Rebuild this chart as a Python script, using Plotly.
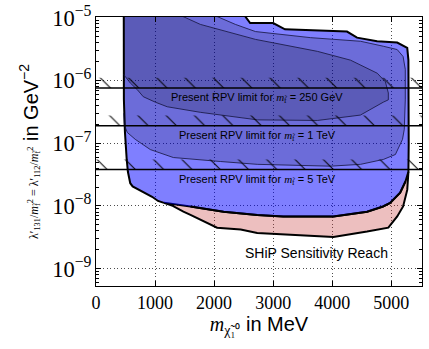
import numpy as np
import plotly.graph_objects as go

# ── Data ───────────────────────────────────────────────────────
# outer edge of the SHiP reach (shared by both bands): lower-left corner,
# left edge, top, right edge
edge_x = [1150, 1050, 950, 830, 700, 620, 580, 540, 520, 490, 472, 470,
          2480, 2610, 3000, 3200, 4250, 4420, 4760, 5100, 5270, 5290, 5295, 5290]
edge_y = [1.12e-8, 1.2e-8, 1.4e-8, 1.6e-8, 1.9e-8, 2.05e-8, 2.3e-8, 3.5e-8,
          5.5e-8, 1.5e-7, 5e-7, 1.2e-5,
          1.2e-5, 8.2e-6, 8.2e-6, 6.5e-6, 6.0e-6, 4.8e-6, 4.2e-6, 4.0e-6,
          3.3e-6, 2.1e-6, 1e-7, 3.5e-8]

# lower edge of the blue region (right -> left)
blue_bottom_x = [5240, 5150, 4980, 4860, 4590, 4020, 3170, 2730, 2160, 1600]
blue_bottom_y = [2.45e-8, 1.62e-8, 1.12e-8, 9.8e-9, 8.1e-9, 6.8e-9, 6.8e-9,
                 7.2e-9, 8.1e-9, 9.8e-9]

# lower edge of the pink region (right -> left)
red_bottom_x = [5280, 5270, 5200, 5100, 4950, 4590, 4020, 3170, 2730, 2450,
                2050, 1600, 1480, 1300]
red_bottom_y = [2.5e-8, 1.8e-8, 9.8e-9, 6.8e-9, 4.5e-9, 3.9e-9, 3.2e-9,
                3.5e-9, 3.7e-9, 4.2e-9, 4.5e-9, 7.2e-9, 8.1e-9, 1.0e-8]

# inner contours
mid_x = [470, 1900, 2360, 2700, 3630, 4480, 4865, 5100, 5200, 5237, 5237, 5220,
         5190, 5070, 4865, 4480, 3970, 3290, 2730, 2110, 1600, 1310, 920, 665,
         530, 480, 470]
mid_y = [1.2e-5, 1.2e-5, 7.8e-6, 6.0e-6, 4.8e-6, 4.2e-6, 3.5e-6, 3.1e-6, 2.4e-6,
         1.5e-6, 4.9e-7, 1.66e-7, 1.15e-7, 6.6e-8, 5.5e-8, 4.6e-8, 4.3e-8,
         4.4e-8, 4.6e-8, 5.1e-8, 5.5e-8, 5.9e-8, 7.9e-8, 1.15e-7, 1.48e-7,
         1.95e-7, 3e-7]

dark_x = [470, 1330, 1767, 2275, 2700, 3750, 4310, 4763, 4900, 4950, 4950, 4865,
          4477, 3750, 2733, 1767, 1207, 1004, 800, 700, 580, 496, 470]
dark_y = [1.2e-5, 1.2e-5, 7.8e-6, 5.75e-6, 4.5e-6, 2.9e-6, 2.1e-6, 1.3e-6,
          9.5e-7, 6.3e-7, 4.9e-7, 4.5e-7, 2.8e-7, 2.3e-7, 2.35e-7, 3.1e-7,
          3.8e-7, 4.5e-7, 5.5e-7, 7.1e-7, 9.1e-7, 1.15e-6, 1.25e-6]

# present RPV limits
rpv_masses = ["250 GeV", "1 TeV", "5 TeV"]
rpv_limits = [7.6e-7, 1.9e-7, 3.8e-8]

X_RANGE = [0, 5520]
Y_RANGE = [np.log10(5.3e-10), -4.99]
HATCH_K = 10 ** 0.16

SANS = "Liberation Sans, Arial, sans-serif"
SERIF = "Liberation Serif, Times New Roman, serif"

fig = go.Figure()

# pink band: red lower edge + blue lower edge reversed
fig.add_trace(go.Scatter(
    x=[edge_x[-1]] + red_bottom_x + [edge_x[0]] + blue_bottom_x[::-1],
    y=[edge_y[-1]] + red_bottom_y + [edge_y[0]] + blue_bottom_y[::-1],
    fill="toself", fillcolor="rgba(200,60,60,0.33)",
    mode="lines", line=dict(color="black", width=2),
    hoverinfo="skip", showlegend=False,
))
# blue region
fig.add_trace(go.Scatter(
    x=edge_x + blue_bottom_x, y=edge_y + blue_bottom_y,
    fill="toself", fillcolor="rgba(0,0,255,0.5)",
    mode="lines", line=dict(color="black", width=2),
    hoverinfo="skip", showlegend=False,
))
for cx, cy in [(mid_x, mid_y), (dark_x, dark_y)]:
    fig.add_trace(go.Scatter(
        x=cx, y=cy, fill="toself", fillcolor="rgba(0,0,0,0.15)",
        mode="lines", line=dict(color="rgba(20,20,60,0.8)", width=1),
        hoverinfo="skip", showlegend=False,
    ))

# hatched bands + limit lines
for m, lim in zip(rpv_masses, rpv_limits):
    fig.add_trace(go.Scatter(
        x=[X_RANGE[0], X_RANGE[1], X_RANGE[1], X_RANGE[0]],
        y=[lim, lim, lim * HATCH_K, lim * HATCH_K],
        fill="toself", mode="none", fillcolor="rgba(0,0,0,0)",
        fillpattern=dict(shape="\\", size=20, solidity=0.05, fgcolor="black",
                         fgopacity=1, bgcolor="rgba(0,0,0,0)", fillmode="overlay"),
        hoverinfo="skip", showlegend=False,
    ))
    fig.add_hline(y=lim, line=dict(color="black", width=1.5))
    fig.add_annotation(
        x=2730, y=np.log10(lim), yanchor="top", yshift=-1, showarrow=False,
        text=(f"Present RPV limit for <span style='font-family:{SERIF}'><i>m</i>"
              f"<sub>f̃</sub></span> = {m}"),
        font=dict(family=SANS, size=11, color="black"),
    )

fig.add_annotation(
    x=3730, y=np.log10(1.8e-9), showarrow=False,
    text="SHiP Sensitivity Reach",
    font=dict(family=SANS, size=14, color="black"),
)

axis_common = dict(
    showline=True, linecolor="black", linewidth=1, mirror="allticks",
    ticks="inside", ticklen=5, tickcolor="black", automargin=False,
    ticklabeloverflow="allow",
    showgrid=True, gridcolor="rgba(0,0,0,0.7)", griddash="1px,2.5px", gridwidth=1,
    zeroline=False, tickfont=dict(family=SERIF, size=18, color="black"),
)
fig.update_xaxes(
    **axis_common, range=X_RANGE, tick0=0, dtick=1000,
    title=dict(
        text=(f"<span style='font-family:{SERIF}'><i>m</i><sub>χ̃₁⁰</sub></span>"
              " in MeV"),
        font=dict(family=SANS, size=20, color="black"), standoff=2,
    ),
)
fig.update_yaxes(
    **axis_common, type="log", range=Y_RANGE, dtick=1,
    exponentformat="power", showexponent="all",
    minor=dict(ticks="inside", ticklen=3, tickcolor="black", showgrid=False),
    title=dict(
        text=(f"<span style='font-family:{SERIF};font-size:12px'>λ′<sub>131</sub>/"
              "<i>m</i><sub>f̃</sub><sup>2</sup> = λ′<sub>112</sub>/<i>m</i>"
              "<sub>f̃</sub><sup>2</sup></span> in GeV<sup>−2</sup>"),
        font=dict(family=SANS, size=20, color="black"), standoff=8,
    ),
)
fig.update_layout(
    width=429, height=349,
    margin=dict(l=96, r=7, t=17, b=63),
    plot_bgcolor="white", paper_bgcolor="white",
)

# drop the browser's default 8px body margin so the figure fills the window
fig.write_html("out.html", config={"displayModeBar": False},
               post_script="document.body.style.margin='0';")
